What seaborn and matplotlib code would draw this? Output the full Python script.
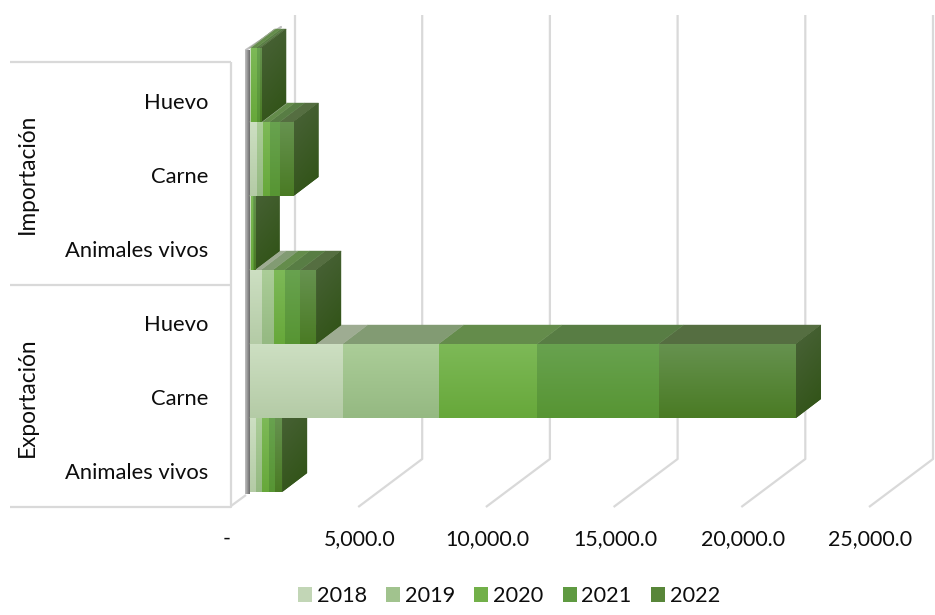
import numpy as np
import pandas as pd
import matplotlib
matplotlib.use("Agg")
import matplotlib.pyplot as plt
from matplotlib.patches import Polygon, Patch
from matplotlib.transforms import ScaledTranslation
import seaborn as sns

# ---- data (top row to bottom row)
groups = ["Importación", "Exportación"]
products = ["Huevo", "Carne", "Animales vivos"]
years = ["2018", "2019", "2020", "2021", "2022"]
v2018 = [20, 262, 10, 442, 3640, 223]
v2019 = [20, 235, 10, 470, 3760, 258]
v2020 = [200, 286, 80, 458, 3857, 262]
v2021 = [120, 392, 60, 615, 4757, 262]
v2022 = [100, 548, 40, 626, 5384, 274]
series = [v2018, v2019, v2020, v2021, v2022]
ticks = [0, 5000, 10000, 15000, 20000, 25000]
tick_labels = ["-", "5,000.0", "10,000.0", "15,000.0", "20,000.0", "25,000.0"]

# ---- style
top_colors = ["#cddfc2", "#abcd98", "#7db957", "#68a24f", "#66924f"]
bot_colors = ["#b4cba6", "#95b982", "#67a83a", "#579533", "#4a7b24"]
roof_colors = ["#9eac92", "#829b73", "#648c4b", "#587d44", "#556e41"]
legend_colors = ["#c2d6b6", "#a1c38e", "#72b049", "#5f9a41", "#588639"]
side_light, side_dark = "#4a6339", "#2f5214"
grid_color = "#d9d9d9"
text_color = "#0d0d0d"
FW, FH = 935, 615
AX_H = 515
PX_PER_UNIT = 127.7 / 5000
ROW_PX = 74.0
X0_PX, ROW0_PX = 249.5, 85.0

sns.set_style("white")
plt.rcParams["font.family"] = ["Lato", "DejaVu Sans"]
FS_CAT, FS_GROUP, FS_TICK, FS_LEG = 15.8, 16.3, 15.4, 15.6


def X(px):
    return (px - X0_PX) / PX_PER_UNIT


def Y(px):
    return (px - ROW0_PX) / ROW_PX


DX, DY = 25 / PX_PER_UNIT, -19 / ROW_PX

fig = plt.figure(figsize=(FW / 100, FH / 100), dpi=100)
ax = fig.add_axes([0, 1 - AX_H / FH, 1, AX_H / FH])

rows = [f"{g}|{p}" for g in groups for p in products]
cum = np.cumsum(np.array(series, dtype=float), axis=0)
long = pd.DataFrame(
    [{"row": r, "year": y, "cum": cum[j, i]} for i, r in enumerate(rows) for j, y in enumerate(years)]
)
hue_order = years[::-1]
sns.barplot(
    data=long, y="row", x="cum", hue="year", order=rows, hue_order=hue_order,
    palette=dict(zip(years, legend_colors)), dodge=False, width=1, saturation=1,
    errorbar=None, legend=False, linewidth=0, ax=ax,
)


def rgb(c):
    return np.array(matplotlib.colors.to_rgb(c))


def vertical(c1, c2, n=64):
    t = np.linspace(0, 1, n)[:, None, None]
    return (1 - t) * rgb(c1)[None, None, :] + t * rgb(c2)[None, None, :]


def diagonal(c1, c2, n=48):
    u, v = np.meshgrid(np.linspace(0, 1, n), np.linspace(0, 1, n))
    t = (0.25 * u + 0.75 * v)[:, :, None]
    return (1 - t) * rgb(c1)[None, None, :] + t * rgb(c2)[None, None, :]


# ---- reference lines behind the bars
front = (-19 / PX_PER_UNIT, 15 / ROW_PX)
back = (45 / PX_PER_UNIT, -33 / ROW_PX)
line = dict(color=grid_color, lw=1.6, solid_capstyle="butt", zorder=1)
bottom = len(rows) - 0.5
for t in ticks:
    xs = [t + front[0], t + back[0], t + back[0]]
    if t == 0:
        xs = [t + back[0], t + back[0]]
        ys = [bottom + back[1], Y(15)]
    else:
        ys = [bottom + front[1], bottom + back[1], Y(15)]
    ax.plot(xs, ys, **line)

ax.plot([X(10), X(231), X(231)], [bottom + front[1]] * 2 + [Y(62)], **line)
ax.plot([X(10), X(231)], [Y(62)] * 2, **line)
ax.plot([X(10), X(231)], [Y(285)] * 2, **line)
ax.plot([X(231), X(246)], [Y(506), Y(495)], **line)
ax.plot([X(246), X(281)], [Y(50), Y(27)], color="#bfbfbf", lw=1.6, zorder=1)

# ---- left wall edge
wall = np.linspace(0, 1, 8)[None, :, None] * (rgb("#6f6f6f") - rgb("#bdbdbd")) + rgb("#bdbdbd")
ax.imshow(wall, extent=(X(245), X(250), Y(494), Y(50)), aspect="auto", origin="upper", zorder=2)

# ---- depth faces and gradients for each bar
for j, (year, container) in enumerate(zip(hue_order, ax.containers)):
    idx = years.index(year)
    for r, patch in enumerate(container.patches):
        z = 10 + 2 * (len(rows) - 1 - r)
        right = cum[idx, r]
        left = cum[idx - 1, r] if idx > 0 else 0.0
        top_y, bot_y = r - 0.5, r + 0.5
        patch.set_zorder(z + 0.5)
        im = ax.imshow(
            vertical(top_colors[idx], bot_colors[idx]),
            extent=(left, right, bot_y, top_y), aspect="auto", origin="upper",
            interpolation="bilinear", zorder=z + 0.6,
        )
        roof = Polygon(
            [(left, top_y), (right, top_y), (right + DX, top_y + DY), (left + DX, top_y + DY)],
            closed=True, facecolor=roof_colors[idx], edgecolor=roof_colors[idx], lw=0.3, zorder=z + 0.1,
        )
        ax.add_patch(roof)
        if idx == len(years) - 1:
            pts = [(right, top_y), (right + DX, top_y + DY), (right + DX, bot_y + DY), (right, bot_y)]
            side = Polygon(pts, closed=True, facecolor=side_dark, edgecolor="none", zorder=z + 0.2)
            ax.add_patch(side)
            sim = ax.imshow(
                diagonal(side_light, side_dark),
                extent=(right, right + DX, bot_y + 0.0, top_y + DY), aspect="auto", origin="upper",
                interpolation="bilinear", zorder=z + 0.3,
            )
            sim.set_clip_path(side)

# ---- axes
ax.set_xlim(X(0), X(FW))
ax.set_ylim(Y(AX_H), Y(0))
sns.despine(ax=ax, left=True, bottom=True)
ax.set_xlabel("")
ax.set_ylabel("")
ax.set_xticks(ticks, tick_labels, fontsize=FS_TICK, color=text_color)
ax.set_yticks(range(len(rows)), products * 2, fontsize=FS_CAT, color=text_color)
ax.tick_params(axis="both", length=0)
ax.tick_params(axis="x", pad=10)
ax.tick_params(axis="y", pad=0)
for t, lab in zip(ticks, ax.get_xticklabels()):
    off = -23 if t == 0 else -17.5
    lab.set_transform(lab.get_transform() + ScaledTranslation(off / 100, 0, fig.dpi_scale_trans))
for lab in ax.get_yticklabels():
    lab.set_transform(lab.get_transform() + ScaledTranslation(208 / 100, -16 / 100, fig.dpi_scale_trans))

for g, py in zip(groups, [174, 397]):
    ax.text(X(27), Y(py), g, rotation=90, ha="center", va="center", fontsize=FS_GROUP, color=text_color)

handles = [Patch(facecolor=c, edgecolor="none", label=y) for c, y in zip(legend_colors, years)]
px_per_em = FS_LEG * 100 / 72
fig.legend(
    handles=handles, ncol=5, frameon=False, fontsize=FS_LEG, labelcolor=text_color,
    loc="center", bbox_to_anchor=(509 / FW, 1 - 596 / FH),
    handlelength=14 / px_per_em, handleheight=14 / px_per_em, handletextpad=5 / px_per_em,
    columnspacing=19 / px_per_em, borderpad=0,
)

fig.savefig("out.png", dpi=100)
